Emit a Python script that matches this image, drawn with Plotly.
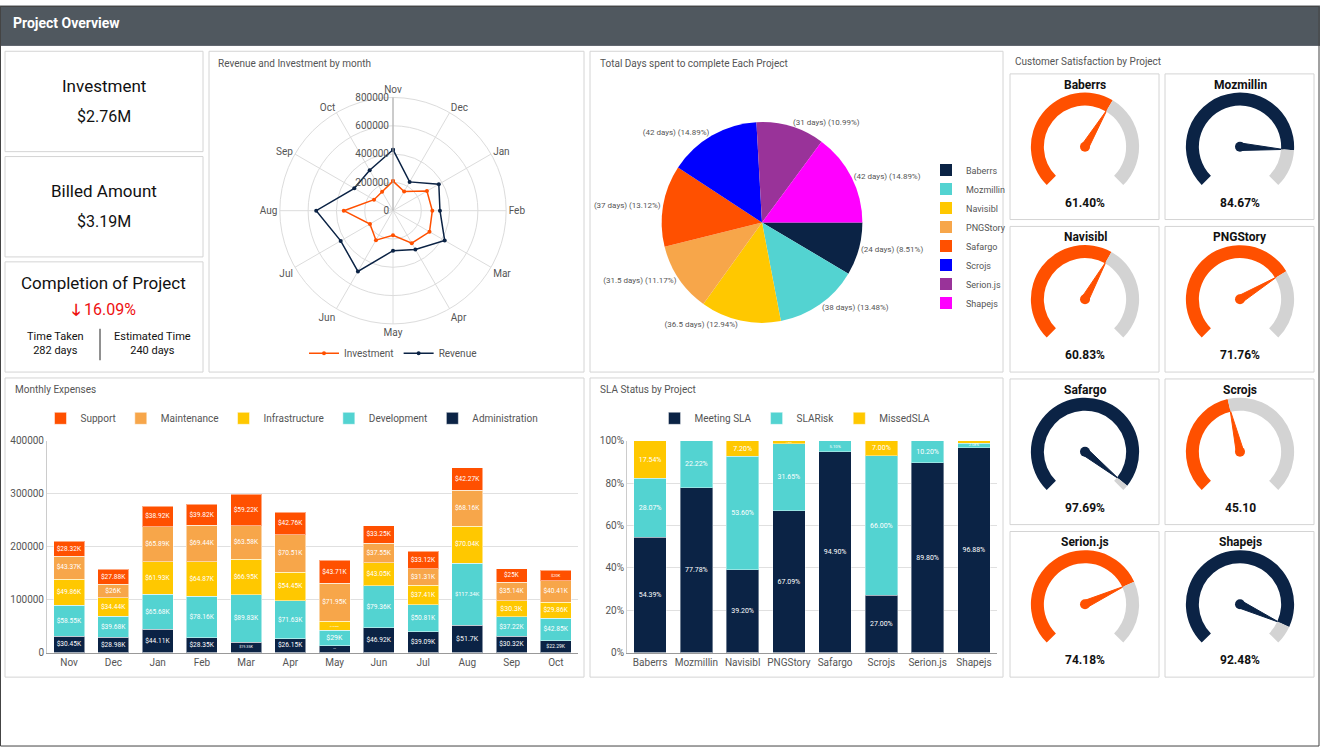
import plotly.graph_objects as go

W, H = 1320, 753
FONT = "Roboto"
NAVY = "#0b2345"; TEAL = "#53d3d1"; YEL = "#ffc800"; LOR = "#f7a64a"; ORG = "#ff5000"

# ---------------- data ----------------
months = ["Nov", "Dec", "Jan", "Feb", "Mar", "Apr", "May", "Jun", "Jul", "Aug", "Sep", "Oct"]
revenue = [431000, 235000, 374000, 332000, 422000, 316000, 283000, 496000, 427000, 543000, 316000, 330000]
investment = [209000, 157000, 277000, 278000, 298000, 265000, 174000, 241000, 188000, 348000, 155000, 154000]

projects = ["Baberrs", "Mozmillin", "Navisibl", "PNGStory", "Safargo", "Scrojs", "Serion.js", "Shapejs"]
days = [24, 38, 36.5, 31.5, 37, 42, 31, 42]
pie_colors = [NAVY, TEAL, YEL, LOR, ORG, "#0000ff", "#993399", "#ff00ff"]

exp_admin = [30.45, 28.98, 44.11, 28.35, 19.35, 26.15, 12.96, 46.92, 39.09, 51.7, 30.32, 22.29]
exp_dev = [58.55, 39.68, 65.68, 78.16, 89.83, 71.63, 29.0, 79.36, 50.81, 117.34, 37.22, 42.85]
exp_infra = [49.86, 34.44, 61.93, 64.87, 66.95, 54.45, 16.82, 43.05, 37.41, 70.04, 30.3, 29.86]
exp_maint = [43.37, 26.0, 65.89, 69.44, 63.58, 70.51, 71.95, 37.55, 31.31, 68.16, 35.14, 40.41]
exp_support = [28.32, 27.88, 38.92, 39.82, 59.22, 42.76, 43.71, 33.25, 33.12, 42.27, 25.0, 20.0]

sla_meeting = [54.39, 77.78, 39.20, 67.09, 94.90, 27.00, 89.80, 96.88]
sla_risk = [28.07, 22.22, 53.60, 31.65, 5.10, 66.00, 10.20, 2.08]
sla_missed = [17.54, 0, 7.20, 1.27, 0, 7.00, 0, 1.04]

gauge_values = [61.40, 84.67, 60.83, 71.76, 97.69, 45.10, 74.18, 92.48]
gauge_labels = ["61.40%", "84.67%", "60.83%", "71.76%", "97.69%", "45.10", "74.18%", "92.48%"]
gauge_titles = ["Baberrs", "Mozmillin", "Navisibl", "PNGStory", "Safargo", "Scrojs", "Serion.js", "Shapejs"]

# ---------------- helpers ----------------
def px(x): return x / W
def py(y): return 1 - y / H

fig = go.Figure()
shapes = []
ann = []

def box(x0, y0, x1, y1, color="#d4d4d4", fill=None, width=1):
    shapes.append(dict(type="rect", xref="paper", yref="paper", x0=px(x0), x1=px(x1),
                       y0=py(y1), y1=py(y0), line=dict(color=color, width=width),
                       fillcolor=fill, layer="below"))

def text(x, y, s, size=11, color="#555", anchor="left", bold=False):
    ann.append(dict(xref="paper", yref="paper", x=px(x), y=py(y), text=f"<b>{s}</b>" if bold else s,
                    showarrow=False, xanchor=anchor, yanchor="middle",
                    font=dict(size=size, color=color, family=FONT)))

# header
box(0, 0, W, 40, color="#50585f", fill="#50585f")
text(11, 17, "Project Overview", 14, "white", bold=True)
box(0.5, 0.5, W - 1, H - 1, color="#444", width=1)

# KPI panels
box(5, 46, 203, 148); box(5, 153, 203, 255); box(5, 260, 203, 372)
text(104, 81, "Investment", 17, "#111", "center")
text(104, 112, "$2.76M", 16, "#111", "center")
text(104, 188, "Billed Amount", 17, "#111", "center")
text(104, 219, "$3.19M", 16, "#111", "center")
text(104, 281, "Completion of Project", 17, "#111", "center")
text(104, 308, "<b>🡓</b> 16.09%", 16, "#ee1111", "center")
text(55, 343, "Time Taken<br>282 days", 11, "#111", "center")
text(152, 343, "Estimated Time<br>240 days", 11, "#111", "center")
shapes.append(dict(type="line", xref="paper", yref="paper", x0=px(100), x1=px(100),
                   y0=py(360), y1=py(328), line=dict(color="#222", width=1)))

# other panels
box(209, 46, 584, 372); box(590, 46, 1003, 372)
box(5, 378, 584, 682); box(590, 378, 1003, 682)
text(216, 58, "Revenue and Investment by month", 10)
text(598, 58, "Total Days spent to complete Each Project", 10)
text(13, 390, "Monthly Expenses", 10)
text(598, 390, "SLA Status by Project", 10)
text(1013, 56, "Customer Satisfaction by Project", 10)

# ---------------- radar ----------------
rcx, rcy, rr = 393, 208, 115
for name, vals, col in [("Investment", investment, ORG), ("Revenue", revenue, NAVY)]:
    fig.add_trace(go.Scatterpolar(r=vals + vals[:1], theta=months + months[:1], name=name,
                                  mode="lines+markers", line=dict(color=col, width=1.5),
                                  marker=dict(size=4, color=col), subplot="polar", legend="legend4"))

# ---------------- pie ----------------
fig.add_trace(go.Pie(labels=projects, values=days, sort=False, direction="clockwise", rotation=90,
                     marker=dict(colors=pie_colors, line=dict(width=0)),
                     texttemplate="(%{value} days) (%{percent:.2%})", textposition="outside",
                     textfont=dict(size=8, color="#555", family=FONT),
                     domain=dict(x=[px(660), px(864)], y=[py(322), py(118)]), legend="legend",
                     showlegend=True))

# ---------------- expenses ----------------
for name, vals, col in [("Administration", exp_admin, NAVY), ("Development", exp_dev, TEAL),
                        ("Infrastructure", exp_infra, YEL), ("Maintenance", exp_maint, LOR),
                        ("Support", exp_support, ORG)]:
    fig.add_trace(go.Bar(x=months, y=[v * 1000 for v in vals], name=name, marker_color=col,
                         marker_line=dict(color="rgba(255,255,255,0.5)", width=1),
                         text=[f"${v:g}K" for v in vals], textposition="inside", insidetextanchor="middle",
                         textfont=dict(size=7, color="white", family=FONT), textangle=0,
                         xaxis="x", yaxis="y", legend="legend2"))

# ---------------- SLA ----------------
for name, vals, col in [("Meeting SLA", sla_meeting, NAVY), ("SLARisk", sla_risk, TEAL),
                        ("MissedSLA", sla_missed, YEL)]:
    fig.add_trace(go.Bar(x=projects, y=vals, name=name, marker_color=col,
                         marker_line=dict(color="rgba(255,255,255,0.4)", width=1),
                         text=[f"{v:.2f}%" if v >= 1.2 else "" for v in vals], textposition="inside",
                         insidetextanchor="middle", textangle=0,
                         textfont=dict(size=7, color="white", family=FONT),
                         xaxis="x2", yaxis="y2", legend="legend3"))

# ---------------- gauges ----------------
gboxes = [(1010, 69), (1165, 69), (1010, 224), (1165, 224), (1010, 379), (1165, 379), (1010, 534), (1165, 534)]
polars = {}
for i, (v, lab, title) in enumerate(zip(gauge_values, gauge_labels, gauge_titles)):
    bx, by = gboxes[i]
    box(bx, by, bx + 149, by + 148)
    cx, cy, R = bx + 75, by + 74, 55
    col = NAVY if v >= 80 else ORG
    dom = dict(x=[px(cx - R), px(cx + R)], y=[py(cy + R), py(cy - R)])
    fig.add_trace(go.Pie(values=[v * 2.7, (100 - v) * 2.7, 90], sort=False, direction="clockwise",
                         rotation=225, hole=0.76, textinfo="none", hoverinfo="skip", showlegend=False,
                         marker=dict(colors=[col, "#d3d3d3", "rgba(0,0,0,0)"], line=dict(width=0)),
                         domain=dom))
    ang = -135 + v * 2.7
    pname = f"polar{i + 2}"
    fig.add_trace(go.Scatterpolar(r=[0.07, 0.8, 0.07, 0.07], theta=[ang - 90, ang, ang + 90, ang - 90],
                                  mode="lines", fill="toself", fillcolor=col, line=dict(color=col, width=1),
                                  subplot=pname, showlegend=False, hoverinfo="skip"))
    fig.add_trace(go.Scatterpolar(r=[0], theta=[0], mode="markers", marker=dict(size=10, color=col),
                                  subplot=pname, showlegend=False, hoverinfo="skip"))
    polars[pname] = dict(domain=dom, bgcolor="rgba(0,0,0,0)",
                         radialaxis=dict(range=[0, 1], visible=False),
                         angularaxis=dict(visible=False, rotation=90, direction="clockwise"))
    text(cx, by + 11, title, 12, "#111", "center", bold=True)
    text(cx, by + 131, lab, 12, "#111", "center", bold=True)

axfont = dict(size=10, color="#555", family=FONT)
fig.update_layout(
    width=W, height=H, margin=dict(l=0, r=0, t=0, b=0), paper_bgcolor="white", plot_bgcolor="white",
    font=dict(family=FONT), barmode="stack", bargap=0.3, shapes=shapes, annotations=ann,
    polar=dict(domain=dict(x=[px(rcx - rr), px(rcx + rr)], y=[py(rcy + rr), py(rcy - rr)]),
               bgcolor="white",
               radialaxis=dict(range=[0, 800000], dtick=200000, angle=90, tickangle=90, tickformat="d",
                               side="counterclockwise",
                               tickfont=axfont, gridcolor="#dcdcdc", showline=True, linecolor="#aaa",
                               ticks=""),
               angularaxis=dict(rotation=90, direction="clockwise", tickfont=axfont,
                                gridcolor="#dcdcdc", linecolor="#dcdcdc", ticks="")),
    xaxis=dict(domain=[px(47), px(578)], anchor="y", tickfont=axfont, showline=True,
               linecolor="#999", ticks=""),
    yaxis=dict(domain=[py(657), py(442)], anchor="x", range=[0, 400000], dtick=100000, tickformat="d",
               tickfont=axfont, gridcolor="#e0e0e0", showline=True, linecolor="#ccc", zeroline=False),
    xaxis2=dict(domain=[px(627), px(997)], anchor="y2", tickfont=axfont, showline=True,
                linecolor="#999", ticks=""),
    yaxis2=dict(domain=[py(657), py(442)], anchor="x2", range=[0, 100], dtick=20, ticksuffix="%",
                tickfont=axfont, gridcolor="#e0e0e0", showline=True, linecolor="#ccc", zeroline=False),
    legend=dict(x=px(926), y=py(152), xanchor="left", yanchor="top", font=dict(size=9, color="#555", family=FONT),
                tracegroupgap=0, bgcolor="rgba(0,0,0,0)"),
    legend2=dict(orientation="h", x=px(292), y=py(419), xanchor="center", yanchor="middle",
                 font=axfont, traceorder="reversed", bgcolor="rgba(0,0,0,0)"),
    legend3=dict(orientation="h", x=px(795), y=py(419), xanchor="center", yanchor="middle",
                 font=axfont, traceorder="normal", bgcolor="rgba(0,0,0,0)"),
    legend4=dict(orientation="h", x=px(393), y=py(353), xanchor="center", yanchor="middle",
                 font=axfont, bgcolor="rgba(0,0,0,0)"),
)
fig.layout.update(polars)
post = ("document.documentElement.style.overflow='hidden';"
        "document.body.style.margin='0';document.body.style.padding='0';document.body.style.overflow='hidden';"
        "var d=document.getElementsByClassName('plotly-graph-div')[0];"
        "d.style.position='absolute';d.style.top='0px';d.style.left='0px';")
fig.write_html("out.html", config={"displayModeBar": False}, post_script=post)
